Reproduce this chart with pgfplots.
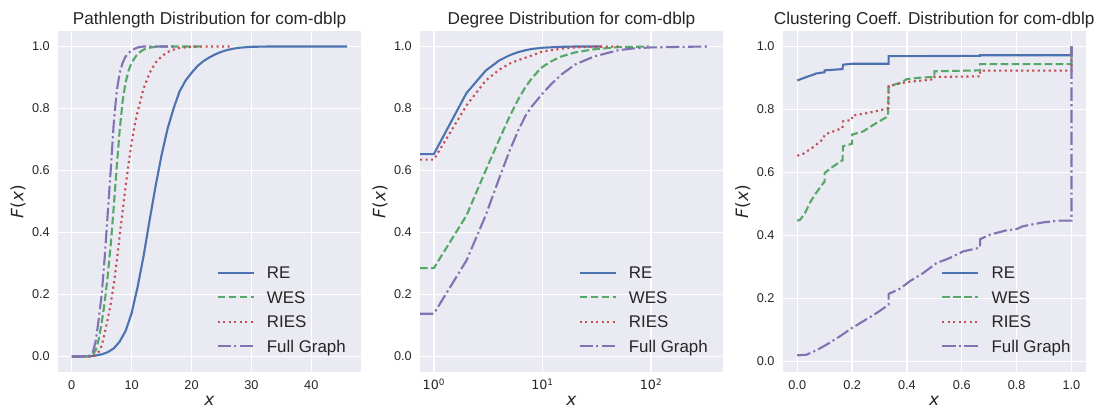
\documentclass[border=0pt]{standalone}
\usepackage{fontspec}
\setmainfont{Liberation Sans}
\newfontfamily\dejavu{DejaVu Sans}
\usepackage{pgfplots}
\pgfplotsset{compat=1.18}
\definecolor{bg}{HTML}{EAEAF2}
\definecolor{cRE}{HTML}{4C72B0}
\definecolor{cWES}{HTML}{55A868}
\definecolor{cRIES}{HTML}{C44E52}
\definecolor{cFULL}{HTML}{8172B2}
\definecolor{tx}{HTML}{262626}
\newcommand{\Fx}{{\dejavu\itshape F}{\dejavu (}{\dejavu\itshape x}{\dejavu )}}
\pgfplotsset{
  sns/.style={
    scale only axis, width=303bp, height=341bp,
    axis background/.style={fill=bg},
    axis line style={draw=none},
    major tick length=0pt, minor tick length=0pt,
    grid=major, major grid style={white, line width=1.4bp},
    tick label style={font=\fontsize{12.7bp}{15bp}\selectfont, text=tx},
    xticklabel style={anchor=base, inner sep=0pt, yshift=-17.6bp},
    yticklabel style={anchor=east, inner sep=0pt, xshift=-8bp},
    ymin=-0.05, ymax=1.05,
    ytick={0,0.2,0.4,0.6,0.8,1},
    yticklabels={0.0,0.2,0.4,0.6,0.8,1.0},
    every axis title/.style={at={([yshift=7bp]axis description cs:0.5,1)}, anchor=base, inner sep=0pt, font=\fontsize{17.2bp}{20bp}\selectfont, text=tx},
    every axis x label/.style={at={([yshift=-24bp]axis description cs:0.5,0)}, anchor=north, inner sep=0pt, font=\fontsize{17bp}{20bp}\selectfont, text=tx},
    every axis y label/.style={at={([xshift=-40bp]axis description cs:0,0.5)}, rotate=90, anchor=center, inner sep=0pt, font=\fontsize{17bp}{20bp}\selectfont, text=tx},
    xlabel={\dejavu\itshape x},
    ylabel={\Fx},
    legend style={at={(axis description cs:0.523,0.309)}, anchor=north west, draw=none, fill=none, inner sep=0pt, outer sep=0pt, row sep=9.1bp, column sep=12.3bp, font=\fontsize{16.9bp}{20bp}\selectfont, text=tx, nodes={inner sep=0pt, anchor=base west, text height=12bp, text depth=3.5bp}},
    legend image code/.code={\draw[##1] (0bp,6bp) -- (36bp,6bp);},
  },
  lRE/.style={color=cRE, line width=2.1bp, solid},
  lWES/.style={color=cWES, line width=2.1bp, dash pattern=on 7.7bp off 3.3bp},
  lRIES/.style={color=cRIES, line width=2.1bp, dash pattern=on 2.1bp off 3.4bp},
  lFULL/.style={color=cFULL, line width=2.1bp, dash pattern=on 13.4bp off 3.3bp on 2.1bp off 3.3bp},
}
\begin{document}
\begin{tikzpicture}
% Panel 1
\begin{axis}[sns, at={(58bp,-372bp)}, anchor=south west,
  title={Pathlength Distribution for com-dblp},
  xmin=-2.3, xmax=48.3, xtick={0,10,20,30,40}, xticklabels={0,10,20,30,40}]
\addplot[lRE] coordinates {(0,0) (2,0) (3,0.001) (4,0.003) (5,0.007) (6,0.014) (7,0.026) (8,0.048) (9,0.083) (10,0.14) (11,0.225) (12,0.325) (13,0.44) (14,0.55) (15,0.65) (16,0.735) (17,0.8) (18,0.855) (19,0.89) (20,0.915) (21,0.937) (22,0.953) (23,0.965) (24,0.975) (25,0.983) (26,0.989) (27,0.993) (28,0.996) (30,0.999) (33,1) (46,1)};
\addlegendentry{RE}
\addplot[lWES] coordinates {(0,0) (3,0) (3.5,0.005) (4,0.02) (4.5,0.055) (5,0.11) (5.5,0.175) (6,0.26) (6.5,0.36) (7,0.48) (7.5,0.61) (8,0.73) (8.5,0.825) (9,0.885) (9.5,0.923) (10,0.948) (11,0.977) (12,0.99) (13,0.996) (14,0.999) (15,1) (22,1)};
\addlegendentry{WES}
\addplot[lRIES] coordinates {(0,0) (3,0) (4,0.005) (4.5,0.015) (5,0.035) (5.5,0.075) (6,0.12) (6.5,0.17) (7,0.23) (7.5,0.305) (8,0.39) (8.5,0.47) (9,0.55) (9.5,0.625) (10,0.69) (10.5,0.745) (11,0.79) (12,0.865) (13,0.915) (14,0.948) (15,0.968) (16,0.982) (17,0.99) (18,0.995) (20,0.999) (22,1) (26.5,1)};
\addlegendentry{RIES}
\addplot[lFULL] coordinates {(0,0) (2,0) (3,0.003) (3.5,0.012) (4,0.05) (4.5,0.12) (5,0.2) (5.5,0.32) (6,0.46) (6.5,0.6) (7,0.75) (7.5,0.855) (8,0.915) (8.5,0.948) (9,0.968) (10,0.988) (11,0.997) (12,1) (17,1)};
\addlegendentry{Full Graph}
\end{axis}
% Panel 2
\begin{axis}[sns, at={(420bp,-372bp)}, anchor=south west,
  title={Degree Distribution for com-dblp},
  xmode=log, xmin=0.746, xmax=460, xtick={1,10,100},
  xticklabels={{\dejavu 10\textsuperscript{0}},{\dejavu 10\textsuperscript{1}},{\dejavu 10\textsuperscript{2}}}]
\addplot[lRE] coordinates {(0.746,0.653) (1,0.653) (2,0.85) (3,0.922) (4,0.955) (5,0.972) (6,0.982) (7,0.988) (8,0.992) (10,0.996) (15,0.999) (20,1) (35,1)};
\addlegendentry{RE}
\addplot[lWES] coordinates {(0.746,0.285) (1,0.285) (2,0.455) (3,0.6) (4,0.7) (5,0.775) (6,0.83) (7,0.87) (8,0.898) (9,0.918) (10,0.934) (12,0.952) (15,0.968) (20,0.981) (30,0.991) (50,0.998) (95,1)};
\addlegendentry{WES}
\addplot[lRIES] coordinates {(0.746,0.635) (1,0.635) (2,0.81) (3,0.89) (4,0.925) (5,0.945) (6,0.956) (7,0.964) (8,0.971) (10,0.984) (15,0.993) (20,0.997) (30,0.999) (50,1)};
\addlegendentry{RIES}
\addplot[lFULL] coordinates {(0.746,0.138) (1,0.138) (2,0.31) (3,0.455) (4,0.575) (5,0.665) (6,0.73) (7,0.777) (8,0.807) (10,0.848) (12,0.878) (15,0.91) (20,0.942) (30,0.968) (50,0.988) (70,0.994) (100,0.997) (200,0.999) (343,1)};
\addlegendentry{Full Graph}
\end{axis}
% Panel 3
\begin{axis}[sns, at={(782.7bp,-372bp)}, anchor=south west,
  title={Clustering Coeff. Distribution for com-dblp},
  xmin=-0.053, xmax=1.052, ymin=-0.034, ymax=1.049,
  xtick={0,0.2,0.4,0.6,0.8,1}, xticklabels={0.0,0.2,0.4,0.6,0.8,1.0}]
\addplot[lRE] coordinates {(0,0.892) (0.034,0.903) (0.064,0.912) (0.068,0.914) (0.1,0.918) (0.1,0.924) (0.165,0.928) (0.167,0.942) (0.2,0.945) (0.333,0.945) (0.333,0.969) (0.667,0.970) (0.667,0.972) (1,0.972) (1,1)};
\addlegendentry{RE}
\addplot[lWES] coordinates {(0,0.447) (0.01,0.449) (0.028,0.47) (0.046,0.503) (0.064,0.529) (0.08,0.548) (0.095,0.566) (0.1,0.57) (0.1,0.598) (0.131,0.619) (0.165,0.638) (0.167,0.683) (0.2,0.691) (0.2,0.72) (0.24,0.73) (0.289,0.757) (0.331,0.778) (0.333,0.873) (0.374,0.884) (0.4,0.896) (0.45,0.901) (0.5,0.903) (0.5,0.921) (0.667,0.924) (0.667,0.944) (1,0.944) (1,1)};
\addlegendentry{WES}
\addplot[lRIES] coordinates {(0,0.653) (0.022,0.659) (0.058,0.68) (0.095,0.706) (0.1,0.72) (0.131,0.73) (0.165,0.741) (0.167,0.762) (0.2,0.767) (0.2,0.78) (0.253,0.788) (0.301,0.797) (0.333,0.804) (0.333,0.873) (0.362,0.88) (0.4,0.887) (0.459,0.892) (0.5,0.896) (0.5,0.903) (0.667,0.905) (0.667,0.923) (1,0.923) (1,1)};
\addlegendentry{RIES}
\addplot[lFULL] coordinates {(0,0.019) (0.034,0.021) (0.07,0.035) (0.107,0.053) (0.155,0.079) (0.2,0.106) (0.24,0.127) (0.289,0.153) (0.329,0.177) (0.333,0.18) (0.333,0.214) (0.374,0.23) (0.41,0.254) (0.459,0.28) (0.508,0.312) (0.556,0.328) (0.605,0.349) (0.661,0.36) (0.667,0.362) (0.667,0.388) (0.702,0.402) (0.763,0.416) (0.8,0.42) (0.823,0.429) (0.896,0.441) (0.958,0.447) (1,0.447) (1,1)};
\addlegendentry{Full Graph}
\end{axis}
\pgfresetboundingbox
\path[use as bounding box] (0bp,0bp) rectangle (1095bp,-408bp);
\end{tikzpicture}
\end{document}
